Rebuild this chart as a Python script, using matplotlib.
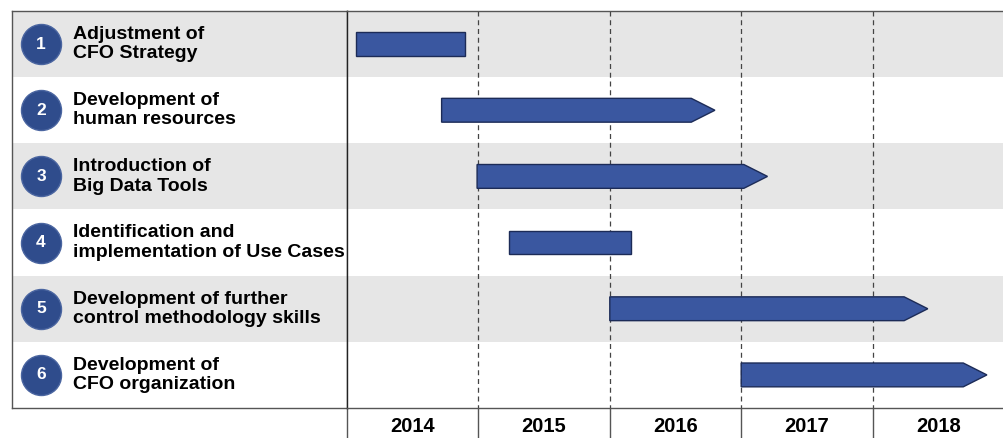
import matplotlib
matplotlib.use("Agg")
import matplotlib.pyplot as plt
from matplotlib.patches import Polygon
import numpy as np

# ---- data ----
step_numbers = ["1", "2", "3", "4", "5", "6"]
step_labels = [
    "Adjustment of\nCFO Strategy",
    "Development of\nhuman resources",
    "Introduction of\nBig Data Tools",
    "Identification and\nimplementation of Use Cases",
    "Development of further\ncontrol methodology skills",
    "Development of\nCFO organization",
]
bar_starts = [2014.07, 2014.72, 2014.99, 2015.23, 2016.00, 2017.00]
bar_ends = [2014.90, 2016.80, 2017.20, 2016.16, 2018.42, 2018.87]
bar_arrow = [False, True, True, False, True, True]
years = [2014, 2015, 2016, 2017, 2018]

# ---- style ----
plt.rcParams['font.family'] = ['Liberation Sans', 'DejaVu Sans']
W, H = 1004, 438
fig = plt.figure(figsize=(W / 100, H / 100), dpi=100)
fig.patch.set_facecolor("white")

bar_color = "#3a57a0"
bar_edge = "#1c2b57"
shade = "#e6e6e6"
line_col = "#555555"
circle_col = "#2f4c8c"

top_px, bot_px = 11, 408
left_px, split_px = 12, 347
ax_bottom = (H - bot_px) / H
ax_height = (bot_px - top_px) / H

axL = fig.add_axes([left_px / W, ax_bottom, (split_px - left_px) / W, ax_height])
axR = fig.add_axes([split_px / W, ax_bottom, (W - split_px) / W, ax_height])

n = len(step_labels)
rows = np.arange(1, n + 1)

for ax in (axL, axR):
    ax.set_ylim(n + 0.5, 0.5)
    for r in rows:
        if r % 2 == 1:
            ax.axhspan(r - 0.5, r + 0.5, color=shade, lw=0, zorder=0)

# left panel
axL.set_xlim(0, 335)
axL.set_xticks([])
axL.set_yticks([])
for s in axL.spines.values():
    s.set_color(line_col)
    s.set_linewidth(1.0)
axL.scatter(np.full(n, 29), rows, s=830, color=circle_col, edgecolor="#4a65a0",
            linewidth=1.0, zorder=3)
for r, num, lab in zip(rows, step_numbers, step_labels):
    axL.text(29, r, num, color="white", fontsize=12.5, fontweight="bold",
             ha="center", va="center", zorder=4)
    axL.text(61, r, lab, color="black", fontsize=14, fontweight="bold",
             ha="left", va="center", linespacing=1.18, zorder=4)

# timeline
axR.set_xlim(years[0], years[-1] + 1)
axR.set_yticks([])
axR.spines['right'].set_visible(False)
for k in ('top', 'bottom', 'left'):
    axR.spines[k].set_color(line_col)
    axR.spines[k].set_linewidth(1.0)
axR.spines['left'].set_color("#222222")

axR.vlines(years[1:], 0.5, n + 0.5, colors="#444444", linestyles=(0, (4, 3)),
           linewidth=0.9, zorder=1)

axR.set_xticks(years + [years[-1] + 1])
axR.set_xticklabels([])
axR.tick_params(axis='x', which='major', direction='out', length=21.6,
                width=1.0, color=line_col)
axR.set_xticks([y + 0.5 for y in years], minor=True)
axR.set_xticklabels([str(y) for y in years], minor=True, fontsize=14.5,
                    fontweight="bold")
axR.tick_params(axis='x', which='minor', length=0, pad=6.5)

bar_h = 0.36
head = 0.18
for r, s, e, arr in zip(rows, bar_starts, bar_ends, bar_arrow):
    y0, y1 = r - bar_h / 2, r + bar_h / 2
    if arr:
        pts = [(s, y0), (e - head, y0), (e, r), (e - head, y1), (s, y1)]
    else:
        pts = [(s, y0), (e, y0), (e, y1), (s, y1)]
    axR.add_patch(Polygon(pts, closed=True, facecolor=bar_color,
                          edgecolor=bar_edge, linewidth=1.0, zorder=3))

fig.savefig("out.png", dpi=100)
